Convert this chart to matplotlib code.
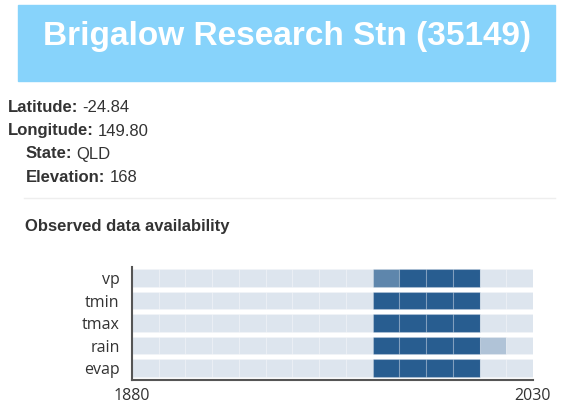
import matplotlib.pyplot as plt
from matplotlib.patches import Rectangle
from matplotlib.text import Annotation
from matplotlib.colors import to_rgb

# station details
title = "Brigalow Research Stn (35149)"
info_labels = ["Latitude:", "Longitude:", "State:", "Elevation:"]
info_values = ["-24.84", "149.80", "QLD", "168"]

# data availability per decade (fraction of the decade with data)
decades = list(range(1880, 2030, 10))
variables = ["vp", "tmin", "tmax", "rain", "evap"]
vp = [0, 0, 0, 0, 0, 0, 0, 0, 0, 0.7, 1, 1, 1, 0, 0]
tmin = [0, 0, 0, 0, 0, 0, 0, 0, 0, 1, 1, 1, 1, 0, 0]
tmax = [0, 0, 0, 0, 0, 0, 0, 0, 0, 1, 1, 1, 1, 0, 0]
rain = [0, 0, 0, 0, 0, 0, 0, 0, 0, 1, 1, 1, 1, 0.25, 0]
evap = [0, 0, 0, 0, 0, 0, 0, 0, 0, 1, 1, 1, 1, 0, 0]
availability = [vp, tmin, tmax, rain, evap]
xticks = [1880, 2030]

W, H = 573, 413
fig = plt.figure(figsize=(W / 100, H / 100), dpi=100)


def fx(x):
    return x / W


def fy(y):
    return 1 - y / H


# title banner
fig.patches.append(Rectangle((fx(18), fy(81)), fx(555) - fx(18), fy(5) - fy(81),
                             transform=fig.transFigure, color="#87d3fb", zorder=0))
fig.text(fx(287), fy(37), title, color="white", fontsize=24, fontweight="bold",
         family="Liberation Sans", ha="center", va="center")

# station info lines: bold label followed by normal value
info_x = [8, 8, 26, 26]
info_y = [107, 131, 154, 177]
for lab, val, x, y in zip(info_labels, info_values, info_x, info_y):
    t = fig.text(fx(x), fy(y), lab, fontsize=12, fontweight="bold", color="#333333",
                 family="Liberation Sans", va="center")
    fig.add_artist(Annotation(val, xy=(1, 0.5), xycoords=t, xytext=(4, 0),
                              textcoords="offset pixels", fontsize=12,
                              color="#333333", family="Liberation Sans",
                              va="center", ha="left"))

# separator
fig.add_artist(plt.Line2D([fx(24), fx(555)], [fy(198), fy(198)],
                          color="#eeeeee", lw=1, transform=fig.transFigure))

fig.text(fx(25), fy(227), "Observed data availability", fontsize=12,
         fontweight="bold", color="#333333", family="Liberation Sans", va="center")

# availability chart
ax = fig.add_axes([fx(132), fy(380), fx(533) - fx(132), fy(267) - fy(380)])
bg = to_rgb("#dde5ee")
dark = to_rgb("#285d90")
n = len(variables)
for i, (name, vals) in enumerate(zip(variables, availability)):
    y = n - 1 - i
    for d, v in zip(decades, vals):
        c = tuple(b + (k - b) * v for b, k in zip(bg, dark))
        ax.barh(y, 10, left=d, height=0.78, color=c,
                edgecolor=(1, 1, 1, 0.18), linewidth=0.8)

ax.set_xlim(1880, 2030)
ax.set_ylim(-0.53, n - 0.5)
ax.set_yticks(range(n))
ax.set_yticklabels(variables[::-1], fontsize=11.5, color="#333333", family="Open Sans")
ax.set_xticks(xticks)
ax.set_xticklabels([str(x) for x in xticks], fontsize=11.5, color="#333333",
                   family="Open Sans")
ax.tick_params(length=0, pad=6)
ax.tick_params(axis="y", pad=9)
for s in ["top", "right"]:
    ax.spines[s].set_visible(False)
for s in ["left", "bottom"]:
    ax.spines[s].set_color("#555555")
    ax.spines[s].set_linewidth(1.5)

fig.savefig("out.png", dpi=100)
